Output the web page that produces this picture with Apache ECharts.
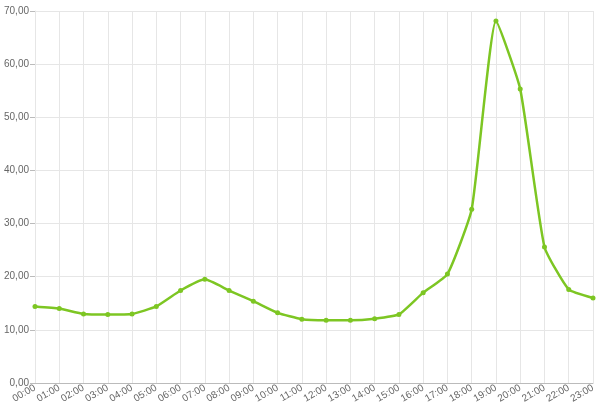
<!DOCTYPE html>
<html>
<head>
<meta charset="utf-8">
<script src="https://cdn.jsdelivr.net/npm/echarts@6/dist/echarts.min.js"></script>
<style>
  html, body { margin: 0; padding: 0; background: #fff; }
  #chart { width: 600px; height: 417px; }
</style>
</head>
<body>
<div id="chart"></div>
<script>
// hours of the day
const hours = ['00:00', '01:00', '02:00', '03:00', '04:00', '05:00', '06:00', '07:00',
  '08:00', '09:00', '10:00', '11:00', '12:00', '13:00', '14:00', '15:00',
  '16:00', '17:00', '18:00', '19:00', '20:00', '21:00', '22:00', '23:00']
// values
const values = [14.4, 14.0, 13.0, 12.9, 13.0, 14.4, 17.4, 19.5,
  17.4, 15.4, 13.2, 12.0, 11.8, 11.8, 12.1, 12.9,
  17.0, 20.5, 32.7, 68.1, 55.3, 25.6, 17.6, 16.0]

const chart = echarts.init(document.getElementById('chart'))
chart.setOption({
  animation: false,
  grid: {
    left: 35,
    right: 7,
    top: 11,
    bottom: 34
  },
  xAxis: {
    type: 'category',
    data: hours,
    boundaryGap: false,
    axisLine: { lineStyle: { color: '#bbb' } },
    axisTick: { show: false },
    axisLabel: {
      interval: 0,
      rotate: 30,
      color: '#666',
      fontSize: 10,
      fontFamily: 'Liberation Sans, Arial, sans-serif',
      margin: 4
    },
    splitLine: { show: true, interval: 0, lineStyle: { color: '#e6e6e6' } }
  },
  yAxis: {
    type: 'value',
    min: 0,
    max: 70,
    interval: 10,
    axisLine: { show: true, lineStyle: { color: '#e6e6e6' } },
    axisTick: { show: true, length: 5, lineStyle: { color: '#bbb' } },
    axisLabel: {
      color: '#666',
      fontSize: 10,
      fontFamily: 'Liberation Sans, Arial, sans-serif',
      margin: 6,
      formatter: v => v.toFixed(2).replace('.', ',')
    },
    splitLine: { lineStyle: { color: '#e6e6e6' } }
  },
  series: [
    {
      type: 'line',
      data: values,
      smooth: 0.15,
      symbol: 'circle',
      symbolSize: 5,
      lineStyle: { color: '#7dc623', width: 2.5 },
      itemStyle: { color: '#7dc623' }
    }
  ]
})
</script>
</body>
</html>
